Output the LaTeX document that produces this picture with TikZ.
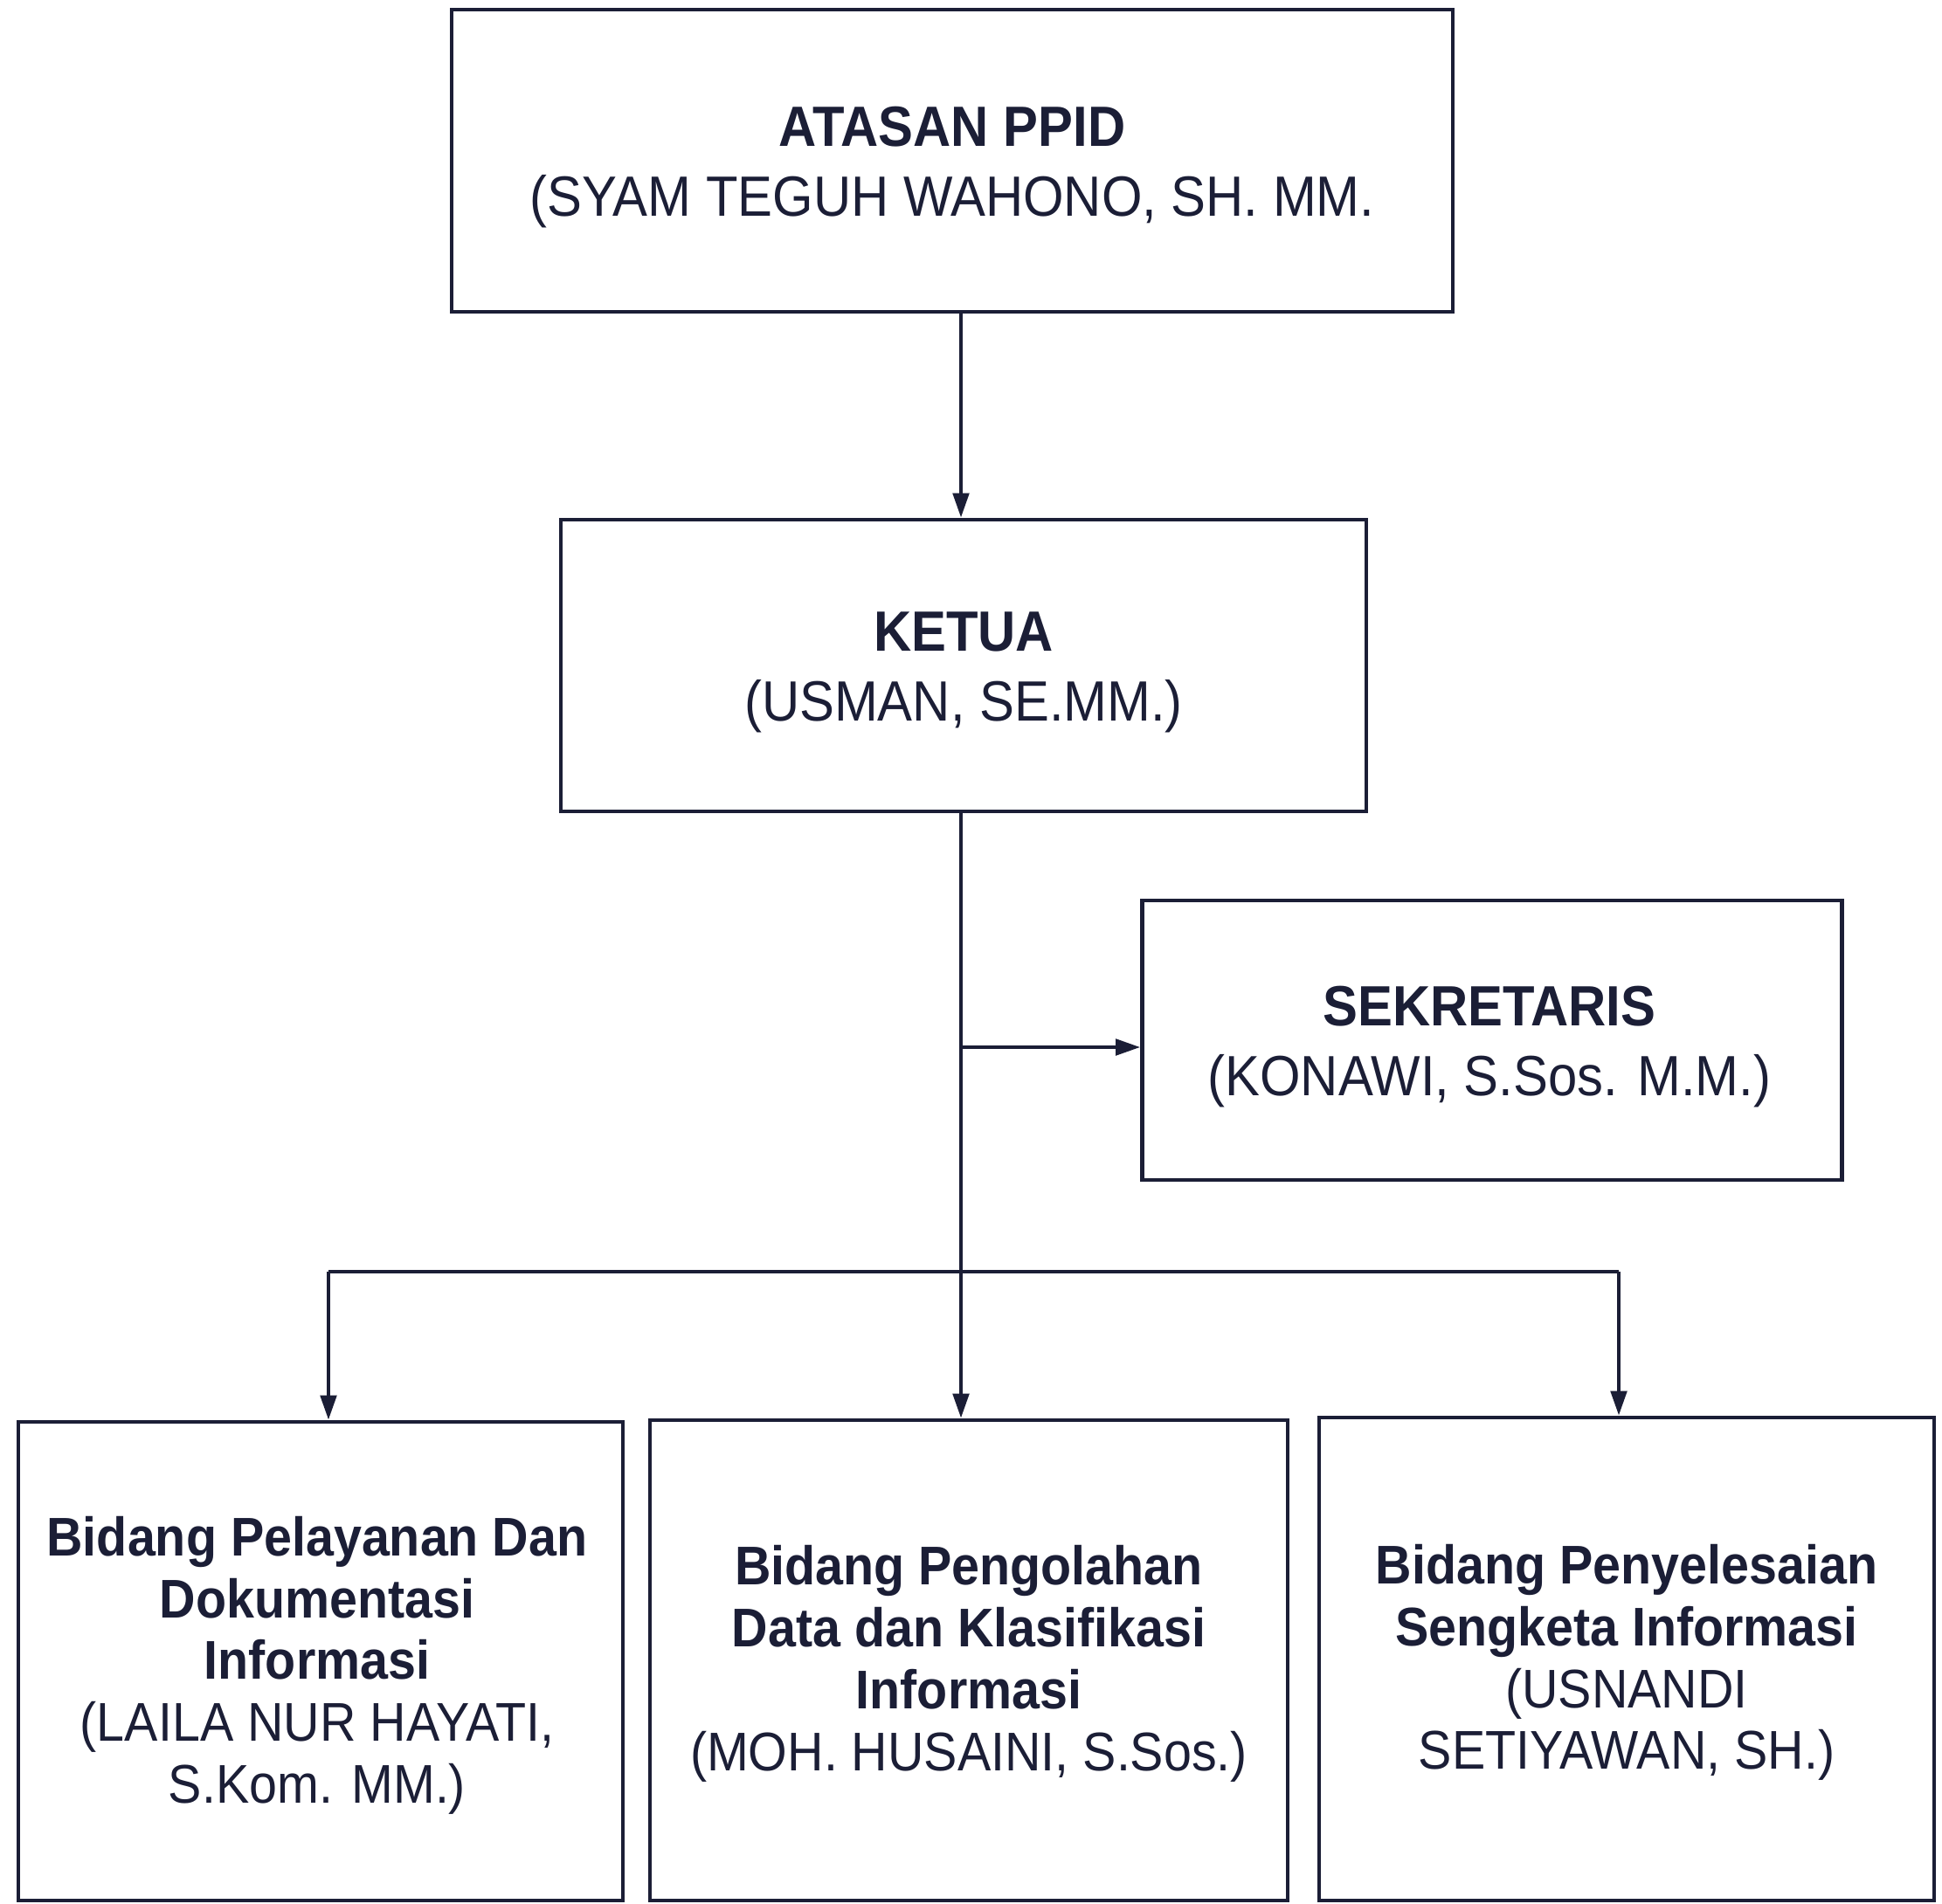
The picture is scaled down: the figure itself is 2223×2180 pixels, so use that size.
\documentclass[tikz,border=0pt]{standalone}
\usepackage{fontspec}
\setmainfont{Liberation Sans}[FakeStretch=0.92]
\usetikzlibrary{arrows.meta}
\definecolor{ink}{HTML}{1B1E36}
\begin{document}
\begin{tikzpicture}[x=0.25pt,y=-0.25pt,
  box/.style={draw=ink,line width=1.2pt,inner sep=0pt},
  txt/.style={align=center,text=ink,inner sep=0pt,
    font=\fontsize{16.25pt}{20pt}\selectfont},
  lowtxt/.style={txt,font=\fontsize{15.6pt}{17.7pt}\selectfont},
  conn/.style={draw=ink,line width=1pt},
  arr/.style={conn,-{Triangle[length=7pt,width=4.6pt]}}]
\useasboundingbox (0,0) rectangle (2223,2180);
\node[box,minimum width=286.5pt,minimum height=86.5pt] (top) at (1090,184) {};
\node[box,minimum width=230.5pt,minimum height=83.5pt] (ketua) at (1103,762) {};
\node[box,minimum width=200.25pt,minimum height=80pt] (sek) at (1708,1191) {};
\node[box,minimum width=173pt,minimum height=137pt] (b1) at (367,1902) {};
\node[box,minimum width=182.5pt,minimum height=137.5pt] (b2) at (1109,1901) {};
\node[box,minimum width=176pt,minimum height=138.25pt] (b3) at (1862,1899.5) {};
\node[txt] (topT) at ([yshift=-1.8pt]top.center)
  {\textbf{ATASAN PPID}\\(SYAM TEGUH WAHONO, SH. MM.};
\node[txt] (ketuaT) at ([yshift=-2pt]ketua.center)
  {\textbf{KETUA}\\(USMAN, SE.MM.)};
\node[txt] (sekT) at ([yshift=-1.8pt,xshift=-0.8pt]sek.center)
  {\textbf{SEKRETARIS}\\(KONAWI, S.Sos. M.M.)};
\node[lowtxt] (b1T) at ([yshift=-1.2pt,xshift=-1pt]b1.center)
  {\textbf{Bidang Pelayanan Dan}\\\textbf{Dokumentasi}\\\textbf{Informasi}\\(LAILA NUR HAYATI,\\S.Kom. MM.)};
\node[lowtxt] (b2T) at ([yshift=-1pt]b2.center)
  {\textbf{Bidang Pengolahan}\\\textbf{Data dan Klasifikasi}\\\textbf{Informasi}\\(MOH. HUSAINI, S.Sos.)};
\node[lowtxt] (b3T) at ([yshift=-1pt]b3.center)
  {\textbf{Bidang Penyelesaian}\\\textbf{Sengketa Informasi}\\(USNANDI\\SETIYAWAN, SH.)};
\coordinate (trunk) at (1100,0);
\coordinate (sj) at (1100,1199);
\coordinate (bar) at (0,1456);
\coordinate (dl) at (376,0);
\coordinate (dr) at (1853,0);
\draw[arr] (top.south -| trunk) -- (ketua.north -| trunk);
\draw[arr] (ketua.south -| trunk) -- (b2.north -| trunk);
\draw[arr] (sj) -- (sj -| sek.west);
\draw[conn] (dl |- bar) -- (dr |- bar);
\draw[arr] (dl |- bar) -- (dl |- b1.north);
\draw[arr] (dr |- bar) -- (dr |- b3.north);
\end{tikzpicture}
\end{document}
